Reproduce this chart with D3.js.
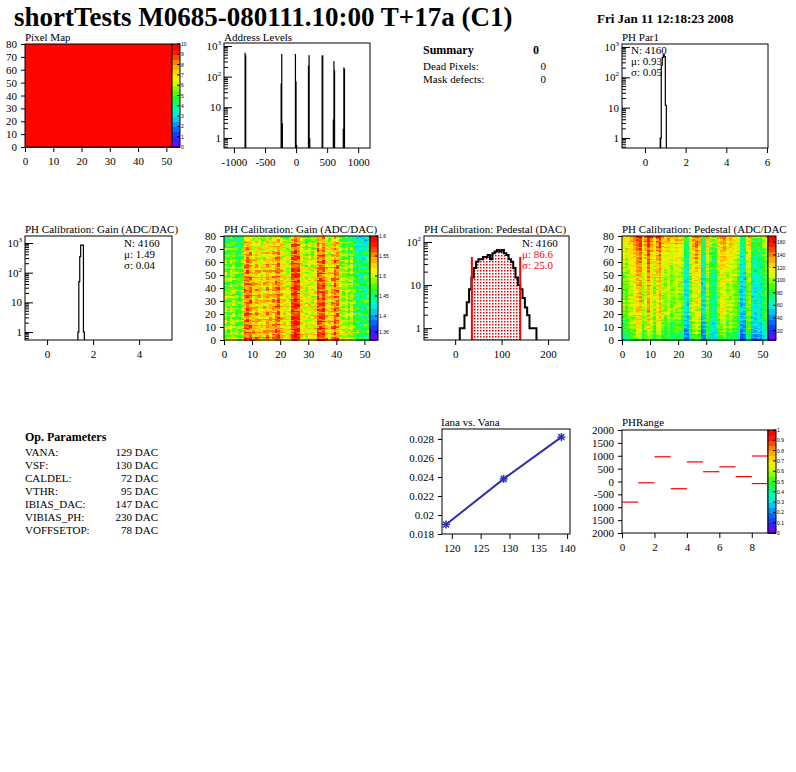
<!DOCTYPE html>
<html><head><meta charset="utf-8">
<script src="https://cdn.jsdelivr.net/npm/d3@7"></script>
<style>body{margin:0;background:#fff}svg{font-family:"Liberation Serif","Times New Roman",serif}</style>
</head><body><svg id="c" width="796" height="772"></svg>
<script>
const titleText="shortTests M0685-080111.10:00 T+17a (C1)";
const dateText="Fri Jan 11 12:18:23 2008";
const addrBins=[[-830,600],[-820,500],[-250,60],[-240,550],[-230,3],[-20,550],[-10,70],[0,0.6],[190,230],[200,500],[210,1],[410,480],[420,500],[590,4],[600,320],[610,160],[750,2],[760,200],[770,180]];
const par1Bins=[[0.75,1],[0.80,250],[0.85,450],[0.90,550],[0.95,480],[1.00,12]];
const gainBins=[[1.34,1],[1.38,50],[1.42,350],[1.46,850],[1.50,850],[1.54,850],[1.58,1]];
const pedBins=[[10,1],[15,1],[20,2],[25,4],[30,8],[35,15],[40,25],[45,35],[50,40],[55,40],[60,45],[65,45],[70,50],[75,40],[80,55],[85,60],[90,65],[95,60],[100,65],[105,55],[110,50],[115,40],[120,35],[125,25],[130,15],[135,10],[140,8],[145,5],[150,3],[155,2],[160,1],[165,1],[170,1]];
const gainCols=[1.49,1.48,1.5,1.49,1.48,1.47,1.49,1.55,1.56,1.55,1.53,1.54,1.53,1.52,1.53,1.54,1.53,1.54,1.55,1.56,1.53,1.52,1.51,1.52,1.57,1.58,1.57,1.52,1.51,1.5,1.51,1.5,1.52,1.57,1.56,1.57,1.53,1.52,1.54,1.56,1.55,1.5,1.49,1.5,1.48,1.5,1.47,1.46,1.46,1.45,1.46,1.47];
const gainRows=[0.01,0.01,0.01,0,0.01,0,0.01,0,0,0.01,0,0,0,0,0.01,0,0,0,0,0,0,-0.005,0,0,0,-0.005,0,0,0,0,0,0,-0.005,0,0,0,0,-0.005,0,0,0,-0.005,0,0,-0.005,0,0,-0.005,0,0,-0.01,0,-0.005,0,-0.01,-0.005,0,-0.01,-0.005,-0.01,-0.01,-0.005,-0.01,-0.01,-0.015,-0.01,-0.015,-0.01,-0.015,-0.02,-0.015,-0.02,-0.02,-0.015,-0.025,-0.02,-0.025,-0.03,-0.03,-0.035];
const pedCols=[95,90,100,105,110,125,130,100,110,135,115,100,120,130,105,100,110,95,100,105,100,95,60,55,95,110,120,110,55,60,100,80,70,75,100,110,115,100,105,100,95,85,50,55,95,100,65,60,70,60,80,90];
const pedRows=[-25,-25,-20,-20,-20,-15,-15,-15,-15,-10,-10,-10,-10,-10,-5,-5,-5,-5,-5,-5,0,0,0,0,0,0,0,0,0,0,0,0,0,0,0,0,0,0,0,0,0,0,5,0,0,0,5,0,5,0,5,5,5,5,5,10,5,10,5,10,10,10,10,15,10,15,15,10,15,20,15,20,20,20,25,20,25,25,25,30];
const noise=[0.3,-0.5,0.8,-0.2,0.1,-0.9,0.6,-0.4,0.0,0.9,-0.7,0.4,-0.1,0.5,-0.6,0.2,-0.3,0.7,-0.8,0.3,0.1,-0.4,0.6,-0.2,0.9,-0.5,0.0,0.4,-0.9,0.2,-0.6,0.8,-0.1,0.5,-0.3,0.7,-0.7];
const ianaX=[119,129,139], ianaY=[0.0190,0.0238,0.0282];
const phrBins=[[0,-800],[1,-50],[2,960],[3,-280],[4,760],[5,380],[6,570],[7,190],[8,990],[8,-80]];
const summary=[["Dead Pixels:","0"],["Mask defects:","0"]];
const opParams=[["VANA:","129 DAC"],["VSF:","130 DAC"],["CALDEL:","72 DAC"],["VTHR:","95 DAC"],["IBIAS_DAC:","147 DAC"],["VIBIAS_PH:","230 DAC"],["VOFFSETOP:","78 DAC"]];

const svg=d3.select("#c");
const defs=svg.append("defs");
const pat=defs.append("pattern").attr("id","dots").attr("width",3).attr("height",3).attr("patternUnits","userSpaceOnUse");
pat.append("rect").attr("width",3).attr("height",3).attr("fill","#fff");
pat.append("rect").attr("width",1.5).attr("height",1.5).attr("fill","#e00");

svg.append("text").attr("x",14).attr("y",26).attr("font-size",27).attr("font-weight","bold").text(titleText);
svg.append("text").attr("x",597).attr("y",23).attr("font-size",13).attr("font-weight","bold").text(dateText);

const rootColors=["#8000ff","#2020ff","#0060ff","#00b0ff","#00ffe0","#00ff80","#20ff00","#a0ff00","#ffff00","#ffc000","#ff8000","#ff1000","#ff0000"];
const pal=d3.interpolateRgbBasis(rootColors);

function axisX(g,x,y0,ticks,fmt,len){
  const ax=d3.axisBottom(x).tickValues(ticks).tickSize(-len).tickSizeOuter(0).tickFormat(fmt||(d=>d));
  const a=g.append("g").attr("transform",`translate(0,${y0})`).call(ax);
  a.select(".domain").remove();a.selectAll("text").attr("font-size",11).attr("font-family","Liberation Serif").attr("dy","0.9em");
  return a;
}
function axisY(g,y,x0,ticks,fmt,len){
  const ax=d3.axisLeft(y).tickValues(ticks).tickSize(-len).tickSizeOuter(0).tickFormat(fmt||(d=>d));
  const a=g.append("g").attr("transform",`translate(${x0},0)`).call(ax);
  a.select(".domain").remove();a.selectAll("text").attr("font-size",11).attr("font-family","Liberation Serif").attr("dx","-0.1em");
  return a;
}
function frame(x0,y0,x1,y1){svg.append("rect").attr("x",x0).attr("y",y0).attr("width",x1-x0).attr("height",y1-y0).attr("fill","none").attr("stroke","#000");}
function ptitle(x,y,t){svg.append("text").attr("x",x).attr("y",y).attr("font-size",11).text(t);}
function logY(y,x0){
  const maj=[1,10,100,1000].filter(v=>v>=y.domain()[0]&&v<=y.domain()[1]);
  axisY(svg,y,x0,maj,d=>"",8);
  maj.forEach(v=>{
    if(v>=100){const t=svg.append("text").attr("x",x0-3).attr("y",y(v)+4).attr("text-anchor","end").attr("font-size",11);t.append("tspan").text("10");t.append("tspan").attr("font-size",7).attr("dy",-5).text(v==100?"2":"3");}
    else svg.append("text").attr("x",x0-3).attr("y",y(v)+4).attr("text-anchor","end").attr("font-size",11).text(String(v));
  });
  const minor=[];[1,10,100,1000].forEach(d=>{for(let k=2;k<10;k++){const v=d*k;if(v>=y.domain()[0]&&v<=y.domain()[1])minor.push(v);}});
  [0.5,0.6,0.7,0.8,0.9].forEach(v=>{if(v>=y.domain()[0])minor.push(v);});
  svg.append("g").selectAll("line").data(minor).join("line").attr("x1",x0).attr("x2",x0+4).attr("y1",d=>y(d)).attr("y2",d=>y(d)).attr("stroke","#000");
}
function histPath(bins,w,x,y,ymin){
  let p=[];bins.forEach(([b,v])=>{const vv=Math.max(v,ymin);p.push([x(b),y(vv)],[x(b+w),y(vv)]);});
  const first=[x(bins[0][0]),y(ymin)],last=[x(bins[bins.length-1][0]+w),y(ymin)];
  return [first,...p,last];
}
function palette(x0,y0,x1,y1,dom,ticks,n,colorFn){
  const y=d3.scaleLinear().domain(dom).range([y1,y0]);
  const step=(dom[1]-dom[0])/n;
  svg.append("g").attr("shape-rendering","crispEdges").selectAll("rect").data(d3.range(n)).join("rect").attr("x",x0).attr("width",x1-x0)
    .attr("y",i=>y(dom[0]+(i+1)*step)).attr("height",i=>y(dom[0])-y(dom[0]+step)+0.5).attr("fill",i=>colorFn((i+0.5)/n));
  svg.append("g").selectAll("text").data(ticks).join("text").attr("x",x1+1).attr("y",d=>y(d)+2).attr("font-size",5).attr("font-family","Liberation Sans").text(d=>d);
  svg.append("g").selectAll("line").data(ticks).join("line").attr("x1",x1-3).attr("x2",x1).attr("y1",d=>y(d)).attr("y2",d=>y(d)).attr("stroke","#000");
  frame(x0,y0,x1,y1);
}
function heatmap(x0,y0,x1,y1,vals,dom,n){
  const x=d3.scaleLinear().domain([0,52]).range([x0,x1]);
  const y=d3.scaleLinear().domain([0,80]).range([y1,y0]);
  const q=v=>{let t=(v-dom[0])/(dom[1]-dom[0]);t=Math.max(0,Math.min(0.999,t));return pal((Math.floor(t*n)+0.5)/n);};
  const cells=[];for(let c=0;c<52;c++)for(let r=0;r<80;r++)cells.push([c,r,vals(c,r)]);
  svg.append("g").attr("shape-rendering","crispEdges").selectAll("rect").data(cells).join("rect").attr("x",d=>x(d[0])).attr("y",d=>y(d[1]+1))
    .attr("width",x(1)-x(0)+0.6).attr("height",y(0)-y(1)+0.6).attr("fill",d=>q(d[2]));
  axisX(svg,x,y1,[0,10,20,30,40,50],null,-5);
  axisY(svg,y,x0,[0,10,20,30,40,50,60,70,80],null,-4);
  frame(x0,y0,x1,y1);
}

// Pixel Map
ptitle(25,41,"Pixel Map");
heatmap(25,44,172,147,()=>10,[0,10.01],20);
palette(172,44,180,147,[0,10],[0,1,2,3,4,5,6,7,8,9,10],20,pal);

// Address Levels
ptitle(224,41,"Address Levels");
{const x=d3.scaleLinear().domain([-1160,1190]).range([224,370]);const y=d3.scaleLog().domain([0.47,1250]).range([148,43]);
 addrBins.forEach(([b,v])=>{svg.append("rect").attr("x",x(b)).attr("width",Math.max(1.2,x(b+8)-x(b))).attr("y",y(v)).attr("height",148-y(v)).attr("fill","#000");});
 axisX(svg,x,148,[-1000,-500,0,500,1000],null,-5);logY(y,224);frame(224,43,370,148);}

// Summary
svg.append("text").attr("x",423).attr("y",54).attr("font-size",12).attr("font-weight","bold").text("Summary");
svg.append("text").attr("x",536).attr("y",54).attr("font-size",12).attr("font-weight","bold").attr("text-anchor","middle").text("0");
summary.forEach((s,i)=>{svg.append("text").attr("x",423).attr("y",70+i*13).attr("font-size",11).text(s[0]);svg.append("text").attr("x",546).attr("y",70+i*13).attr("font-size",11).attr("text-anchor","end").text(s[1]);});

// PH Par1
ptitle(622,41,"PH Par1");
{const x=d3.scaleLinear().domain([-1.13,6.05]).range([622,768]);const y=d3.scaleLog().domain([0.47,1250]).range([148,44]);
 svg.append("path").attr("d",d3.line()(histPath(par1Bins,0.05,x,y,0.47))).attr("fill","none").attr("stroke","#000").attr("stroke-width",1.2);
 svg.append("rect").attr("x",x(0.75)).attr("width",x(0.8)-x(0.75)).attr("y",y(1)).attr("height",148-y(1)).attr("fill","#000");
 axisX(svg,x,148,[0,2,4,6],null,-5);logY(y,622);frame(622,44,768,148);
 ["N: 4160","μ: 0.93","σ: 0.05"].forEach((t,i)=>svg.append("text").attr("x",631).attr("y",54+i*11).attr("font-size",11).text(t));}

// Gain hist
ptitle(25,233,"PH Calibration: Gain (ADC/DAC)");
{const x=d3.scaleLinear().domain([-0.96,5.43]).range([25,172]);const y=d3.scaleLog().domain([0.54,1720]).range([340,236]);
 svg.append("path").attr("d",d3.line()(histPath(gainBins,0.04,x,y,0.54))).attr("fill","none").attr("stroke","#000").attr("stroke-width",1.2);
 axisX(svg,x,340,[0,2,4],null,-5);logY(y,25);frame(25,236,172,340);
 ["N: 4160","μ: 1.49","σ: 0.04"].forEach((t,i)=>svg.append("text").attr("x",124).attr("y",247+i*11).attr("font-size",11).text(t));}

// Gain map
ptitle(224,233,"PH Calibration: Gain (ADC/DAC)");
heatmap(224,236,370,340,(c,r)=>gainCols[c]+gainRows[r]+0.03*noise[(c*13+r*7)%noise.length],[1.34,1.6],20);
palette(370,236,378,340,[1.34,1.6],[1.36,1.4,1.45,1.5,1.55,1.6],20,pal);

// Pedestal hist
ptitle(424,233,"PH Calibration: Pedestal (DAC)");
{const x=d3.scaleLinear().domain([-67,245]).range([424,569]);const y=d3.scaleLog().domain([0.53,138]).range([340,236]);
 const inside=pedBins.filter(b=>b[0]>=35&&b[0]<140);
 const pts=[[x(36),y(0.53)]];inside.forEach(([b,v])=>{const lo=Math.max(b,36),hi=Math.min(b+5,140);pts.push([x(lo),y(v)],[x(hi),y(v)]);});pts.push([x(140),y(0.53)]);
 svg.append("path").attr("d",d3.line()(pts)+"Z").attr("fill","url(#dots)");
 svg.append("path").attr("d",d3.line()(histPath(pedBins,5,x,y,0.53))).attr("fill","none").attr("stroke","#000").attr("stroke-width",2);
 [36,140].forEach(v=>svg.append("line").attr("x1",x(v)).attr("x2",x(v)).attr("y1",y(45)).attr("y2",340).attr("stroke","#f00").attr("stroke-width",2));
 axisX(svg,x,340,[0,100,200],null,-5);logY(y,424);frame(424,236,569,340);
 svg.append("text").attr("x",522).attr("y",247).attr("font-size",11).text("N: 4160");
 ["μ: 86.6","σ: 25.0"].forEach((t,i)=>svg.append("text").attr("x",522).attr("y",258+i*11).attr("font-size",11).attr("fill","#f00").text(t));}

// Pedestal map
ptitle(622,233,"PH Calibration: Pedestal (ADC/DAC");
heatmap(622,236,768,340,(c,r)=>pedCols[c]+pedRows[r]+12*noise[(c*11+r*5)%noise.length],[5,170],20);
palette(768,236,776,340,[5,170],[20,40,60,80,100,120,140,160],20,pal);

// Op Parameters
svg.append("text").attr("x",25).attr("y",441).attr("font-size",12).attr("font-weight","bold").text("Op. Parameters");
opParams.forEach((p,i)=>{svg.append("text").attr("x",25).attr("y",456+i*13).attr("font-size",11).text(p[0]);svg.append("text").attr("x",158).attr("y",456+i*13).attr("font-size",11).attr("text-anchor","end").text(p[1]);});

// Iana vs Vana
ptitle(441,426,"Iana vs. Vana");
{const x=d3.scaleLinear().domain([118.3,140.5]).range([442,570]);const y=d3.scaleLinear().domain([0.018,0.02905]).range([534,429]);
 const d=ianaX.map((v,i)=>[x(v),y(ianaY[i])]);
 svg.append("path").attr("d",d3.line()(d)).attr("fill","none").attr("stroke","#3030b0").attr("stroke-width",2);
 d.forEach(p=>{const g=svg.append("g").attr("stroke","#3030b0").attr("stroke-width",1.5);
   [[-4,0,4,0],[0,-4,0,4],[-3,-3,3,3],[-3,3,3,-3]].forEach(l=>g.append("line").attr("x1",p[0]+l[0]).attr("y1",p[1]+l[1]).attr("x2",p[0]+l[2]).attr("y2",p[1]+l[3]));});
 axisX(svg,x,534,[120,125,130,135,140],null,-5);axisY(svg,y,442,[0.018,0.02,0.022,0.024,0.026,0.028],d=>String(+d.toFixed(3)),-4);frame(442,429,570,534);}

// PHRange
ptitle(622,426,"PHRange");
{const x=d3.scaleLinear().domain([0,9]).range([622,768]);const y=d3.scaleLinear().domain([-2000,2000]).range([533,430]);
 svg.append("g").selectAll("line").data(phrBins).join("line").attr("x1",d=>x(d[0])).attr("x2",d=>x(d[0]+1)).attr("y1",d=>y(d[1])).attr("y2",d=>y(d[1])).attr("stroke","#f00").attr("stroke-width",1.2);
 axisX(svg,x,533,[0,2,4,6,8],null,-5);
 axisY(svg,y,622,[-2000,-1500,-1000,-500,0,500,1000,1500,2000],d=>d<=-1000?String(-d):d,-4);frame(622,430,768,533);}
palette(768,430,776,533,[0,1],[0,0.1,0.2,0.3,0.4,0.5,0.6,0.7,0.8,0.9,1],20,pal);
</script></body></html>
